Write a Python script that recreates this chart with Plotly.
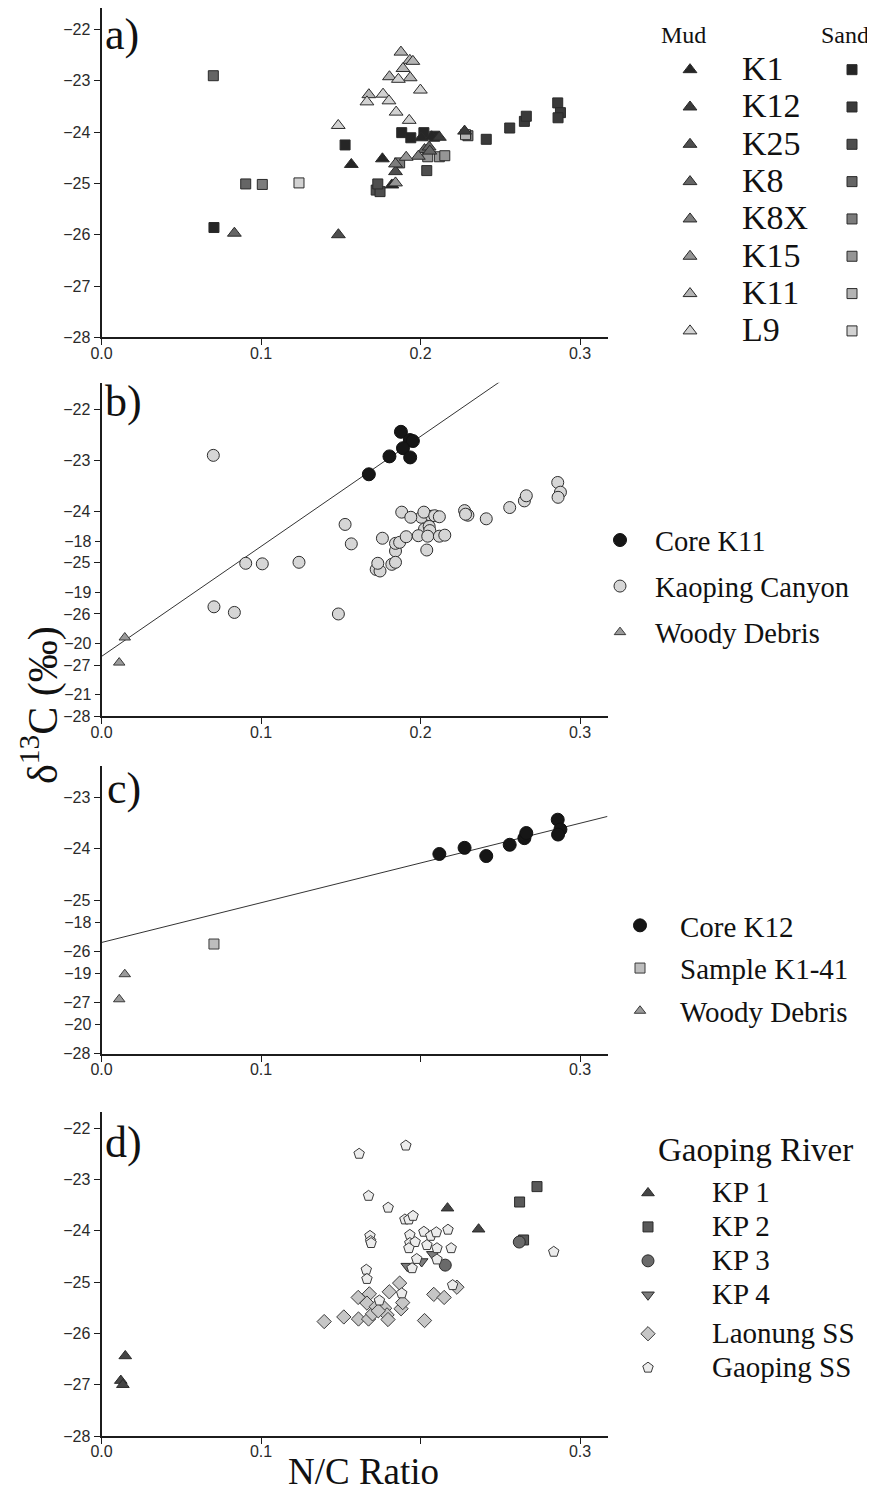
import plotly.graph_objects as go

# ======================= DATA =======================
CORES = ["K1", "K12", "K25", "K8", "K8X", "K15", "K11", "L9"]

# Panel a: N/C ratio (x) and d13C (y), mud = triangles, sand = squares
K1_mud_x = [0.1566, 0.1761, 0.1820, 0.2005, 0.2070]
K1_mud_y = [-24.63, -24.52, -25.03, -24.11, -24.09]
K1_sand_x = [0.0705, 0.1527, 0.1882, 0.1939, 0.2021, 0.2089]
K1_sand_y = [-25.86, -24.25, -24.01, -24.11, -24.01, -24.08]
K12_mud_x = [0.2118, 0.2276]
K12_mud_y = [-24.10, -23.98]
K12_sand_x = [0.2412, 0.2559, 0.2651, 0.2663, 0.2860, 0.2877, 0.2862]
K12_sand_y = [-24.14, -23.92, -23.79, -23.69, -23.43, -23.62, -23.72]
K25_mud_x = [0.1485, 0.1843]
K25_mud_y = [-26.00, -24.77]
K25_sand_x = [0.2039, 0.1722, 0.1746, 0.1732]
K25_sand_y = [-24.75, -25.13, -25.16, -25.01]
K8_mud_x = [0.0833, 0.2025, 0.2054, 0.2058]
K8_mud_y = [-25.97, -24.34, -24.29, -24.37]
K8_sand_x = [0.0701, 0.0904]
K8_sand_y = [-22.90, -25.01]
K8X_mud_x = [0.1986, 0.1843]
K8X_mud_y = [-24.47, -24.62]
K8X_sand_x = [0.1008, 0.2297, 0.1869]
K8X_sand_y = [-25.02, -24.07, -24.60]
K15_mud_x = [0.1910, 0.1843]
K15_mud_y = [-24.49, -24.99]
K15_sand_x = [0.2045, 0.2118, 0.2152]
K15_sand_y = [-24.48, -24.48, -24.46]
K11_mud_x = [0.1877, 0.1933, 0.1952, 0.1890, 0.1805, 0.1935, 0.1676]
K11_mud_y = [-22.44, -22.60, -22.62, -22.76, -22.92, -22.94, -23.27]
K11_sand_x = [0.2282]
K11_sand_y = [-24.05]
L9_mud_x = [0.1861, 0.1999, 0.1765, 0.1664, 0.1802, 0.1847, 0.1929, 0.1484]
L9_mud_y = [-22.97, -23.18, -23.26, -23.41, -23.39, -23.61, -23.77, -23.87]
L9_sand_x = [0.1238]
L9_sand_y = [-24.99]

# Panel b: woody debris on the secondary (inner) scale, regression line of core K11
B_WOODY_x = [0.0146, 0.0111]
B_WOODY_y = [-19.88, -20.37]
B_FIT_INTERCEPT = -26.83
B_FIT_SLOPE = 21.5

# Panel c: woody debris on the secondary scale, regression line of core K12
C_WOODY_x = [0.0146, 0.0111]
C_WOODY_y = [-19.01, -19.50]
C_FIT_INTERCEPT = -25.83
C_FIT_SLOPE = 7.77

# Panel d: Gaoping River
KP1_x = [0.0149, 0.0121, 0.0134, 0.2169, 0.2364]
KP1_y = [-26.44, -26.92, -27.00, -23.56, -23.97]
KP2_x = [0.2621, 0.2730, 0.2646]
KP2_y = [-23.44, -23.14, -24.18]
KP3_x = [0.2619, 0.2155]
KP3_y = [-24.22, -24.67]
KP4_x = [0.1917, 0.2007, 0.2077]
KP4_y = [-24.69, -24.60, -24.46]
LAONUNG_x = [0.1396, 0.1519, 0.1609, 0.1611, 0.1674, 0.1679, 0.1664, 0.1699, 0.1722, 0.1775,
             0.1790, 0.1796, 0.1804, 0.1869, 0.1878, 0.1888, 0.2025, 0.2083, 0.2148, 0.2228, 0.1735]
LAONUNG_y = [-25.77, -25.68, -25.30, -25.72, -25.72, -25.23, -25.41, -25.62, -25.48, -25.51,
             -25.64, -25.73, -25.19, -25.02, -25.52, -25.40, -25.75, -25.24, -25.30, -25.10, -25.56]
GAOPING_x = [0.1615, 0.1908, 0.1674, 0.1797, 0.1902, 0.1927, 0.1953, 0.1683, 0.1687, 0.1933,
             0.1933, 0.1966, 0.1927, 0.2021, 0.2064, 0.2099, 0.2040, 0.2103, 0.1976, 0.1947,
             0.1660, 0.1664, 0.1742, 0.1882, 0.2103, 0.2172, 0.2192, 0.2201, 0.2835, 0.1690]
GAOPING_y = [-22.50, -22.34, -23.32, -23.55, -23.78, -23.78, -23.71, -24.10, -24.20, -24.08,
             -24.24, -24.22, -24.34, -24.02, -24.10, -24.03, -24.28, -24.34, -24.55, -24.73,
             -24.76, -24.94, -25.36, -25.22, -24.56, -23.98, -24.34, -25.06, -24.41, -24.24]

# Tick labels
X_TICKS_AB = [0.0, 0.1, 0.2, 0.3]
X_TICKS_CD = [0.0, 0.1, 0.3]      # 0.2 keeps its tick mark but has no label in c) and d)
X_UNLABELLED_CD = [0.2]
Y_TICKS = [-22, -23, -24, -25, -26, -27, -28]
Y2_TICKS_B = [-18, -19, -20, -21]
Y2_TICKS_C = [-18, -19, -20]

# ======================= STYLE / LAYOUT =======================
# The page body has an 8 px margin, so the figure is 8 px smaller than the window
# and all positions below are given in window pixels and converted.
OFF = 8
FW, FH = 875 - OFF, 1495 - OFF
SERIF = "Liberation Serif"
SANS = "Liberation Sans"
AXC = "#1c1c1c"
X_LEFT, X_RIGHT = 101.5, 607.5
X_MAX = 0.3172
B_SEC_OFFSET = 6.58
C_SEC_OFFSET = 7.44
PANELS = [(8.0, 337.3, -21.58), (382.7, 716.3, -21.48), (766.0, 1053.5, -22.38), (1111.7, 1436.0, -21.68)]
GRAYS = ["#262626", "#3a3a3a", "#4e4e4e", "#656565", "#7c7c7c", "#959595", "#b4b4b4", "#d2d2d2"]


def fx(p):
    return min(1.0, max(0.0, (p - OFF) / FW))


def fy(p):
    return min(1.0, max(0.0, 1 - (p - OFF) / FH))


def mk(symbol, size, fill, line="#222222", lw=1.0):
    return dict(symbol=symbol, size=size, color=fill, line=dict(color=line, width=lw))


def big(txt, size):
    return '<span style="font-size:%gpx">%s</span>' % (size, txt)


fig = go.Figure()

MUD = [(K1_mud_x, K1_mud_y), (K12_mud_x, K12_mud_y), (K25_mud_x, K25_mud_y), (K8_mud_x, K8_mud_y),
       (K8X_mud_x, K8X_mud_y), (K15_mud_x, K15_mud_y), (K11_mud_x, K11_mud_y), (L9_mud_x, L9_mud_y)]
SAND = [(K1_sand_x, K1_sand_y), (K12_sand_x, K12_sand_y), (K25_sand_x, K25_sand_y), (K8_sand_x, K8_sand_y),
        (K8X_sand_x, K8X_sand_y), (K15_sand_x, K15_sand_y), (K11_sand_x, K11_sand_y), (L9_sand_x, L9_sand_y)]

# ---- panel a ----
for i, (name, (sx, sy)) in enumerate(zip(CORES, SAND)):
    fig.add_trace(go.Scatter(x=sx, y=sy, mode="markers", xaxis="x", yaxis="y", name=" ",
                             marker=mk("square", 10, GRAYS[i], "#2a2a2a", 1), legend="legend2"))
for i, (name, (mx, my)) in enumerate(zip(CORES, MUD)):
    fig.add_trace(go.Scatter(x=mx, y=my, mode="markers", xaxis="x", yaxis="y", name=big(name, 34),
                             marker=mk("triangle-up", 12, GRAYS[i], "#2a2a2a", 1), legend="legend"))

# ---- panel b ----
kaoping_x, kaoping_y = [], []
for name, (mx, my), (sx, sy) in zip(CORES, MUD, SAND):
    if name not in ("K11", "L9"):
        kaoping_x += mx
        kaoping_y += my
    kaoping_x += sx
    kaoping_y += sy

fig.add_trace(go.Scatter(x=[0, X_MAX], y=[B_FIT_INTERCEPT, B_FIT_INTERCEPT + B_FIT_SLOPE * X_MAX],
                         mode="lines", line=dict(color="#333333", width=1), xaxis="x2", yaxis="y2",
                         showlegend=False, hoverinfo="skip"))
fig.add_trace(go.Scatter(x=K11_mud_x, y=K11_mud_y, mode="markers", xaxis="x2", yaxis="y2", name="Core K11",
                         marker=mk("circle", 13, "#161616", "#111111", 1), legend="legend3", legendgroup="b1"))
fig.add_trace(go.Scatter(x=kaoping_x, y=kaoping_y, mode="markers", xaxis="x2", yaxis="y2", name="Kaoping Canyon",
                         marker=mk("circle", 12, "#d6d6d6", "#2e2e2e", 1), legend="legend3", legendgroup="b2"))
fig.add_trace(go.Scatter(x=B_WOODY_x, y=B_WOODY_y, mode="markers", xaxis="x2", yaxis="y5", name="Woody Debris",
                         marker=mk("triangle-up", 10, "#9a9a9a", "#3a3a3a", 1), legend="legend3", legendgroup="b3"))

# ---- panel c ----
fig.add_trace(go.Scatter(x=[0, X_MAX], y=[C_FIT_INTERCEPT, C_FIT_INTERCEPT + C_FIT_SLOPE * X_MAX],
                         mode="lines", line=dict(color="#333333", width=1), xaxis="x3", yaxis="y3",
                         showlegend=False, hoverinfo="skip"))
fig.add_trace(go.Scatter(x=K12_mud_x + K12_sand_x, y=K12_mud_y + K12_sand_y, mode="markers", xaxis="x3", yaxis="y3",
                         name="Core K12", marker=mk("circle", 13, "#161616", "#111111", 1),
                         legend="legend4", legendgroup="c1"))
fig.add_trace(go.Scatter(x=K1_sand_x[:1], y=K1_sand_y[:1], mode="markers", xaxis="x3", yaxis="y3",
                         name="Sample K1-41", marker=mk("square", 10, "#bdbdbd", "#3a3a3a", 1),
                         legend="legend4", legendgroup="c2"))
fig.add_trace(go.Scatter(x=C_WOODY_x, y=C_WOODY_y, mode="markers", xaxis="x3", yaxis="y6", name="Woody Debris",
                         marker=mk("triangle-up", 10, "#9a9a9a", "#3a3a3a", 1), legend="legend4", legendgroup="c3"))

# ---- panel d ----
d_series = [
    (KP1_x, KP1_y, "KP 1", mk("triangle-up", 11, "#454545", "#2a2a2a"), "kp"),
    (KP2_x, KP2_y, "KP 2", mk("square", 10, "#595959", "#2a2a2a"), "kp"),
    (KP3_x, KP3_y, "KP 3", mk("circle", 12, "#6a6a6a", "#2a2a2a"), "kp"),
    (KP4_x, KP4_y, "KP 4", mk("triangle-down", 11, "#7c7c7c", "#2a2a2a"), "kp"),
    (LAONUNG_x, LAONUNG_y, "Laonung SS", mk("diamond", 11, "#c6c6c6", "#3a3a3a"), "ss"),
    (GAOPING_x, GAOPING_y, "Gaoping SS", mk("pentagon", 11, "#ececec", "#3a3a3a"), "ss"),
]
for x, y, name, marker, grp in d_series:
    fig.add_trace(go.Scatter(x=x, y=y, mode="markers", xaxis="x4", yaxis="y4", name=big(name, 29),
                             marker=marker, legend="legend5", legendgroup=grp))

# ---- axes ----
axis_style = dict(showline=True, linecolor=AXC, linewidth=2, ticks="outside", ticklen=6, tickwidth=1.2,
                  tickcolor=AXC, showgrid=False, zeroline=False, automargin=False,
                  tickfont=dict(family=SANS, size=16, color="#2a2a2a"))
layout = dict(width=FW, height=FH, margin=dict(l=0, r=0, t=0, b=0, pad=0, autoexpand=False),
              paper_bgcolor="white", plot_bgcolor="rgba(0,0,0,0)", showlegend=True)
for i, (top, bot, ytop) in enumerate(PANELS):
    n = "" if i == 0 else str(i + 1)
    xa = dict(domain=[fx(X_LEFT), fx(X_RIGHT)], range=[0, X_MAX], anchor="y" + n,
              tickformat=".1f", ticklabelstandoff=-6, **axis_style)
    if i < 2:
        xa["tickvals"] = X_TICKS_AB
    else:
        xa["tickvals"] = X_TICKS_CD
        xa["minor"] = dict(tickvals=X_UNLABELLED_CD, ticks="outside", ticklen=6, tickwidth=1.2,
                           tickcolor=AXC, showgrid=False)
    layout["xaxis" + n] = xa
    layout["yaxis" + n] = dict(domain=[fy(bot), fy(top)], range=[-28, ytop], anchor="x" + n,
                               tickvals=[v for v in Y_TICKS if v <= ytop], **axis_style)
sec_style = dict(axis_style)
sec_style["showline"] = False
layout["yaxis5"] = dict(overlaying="y2", anchor="x2", side="left",
                        range=[-28 + B_SEC_OFFSET, PANELS[1][2] + B_SEC_OFFSET], tickvals=Y2_TICKS_B, **sec_style)
layout["yaxis6"] = dict(overlaying="y3", anchor="x3", side="left",
                        range=[-28 + C_SEC_OFFSET, PANELS[2][2] + C_SEC_OFFSET], tickvals=Y2_TICKS_C, **sec_style)

leg_common = dict(bgcolor="rgba(0,0,0,0)", xanchor="left", yanchor="top", itemsizing="trace",
                  itemclick=False, itemdoubleclick=False, xref="container", yref="container")
layout["legend"] = dict(x=fx(638), y=fy(46), font=dict(family=SERIF, size=26.4, color="#111"),
                        itemwidth=94, **leg_common)
layout["legend2"] = dict(x=fx(832), y=fy(46), font=dict(family=SERIF, size=26.4, color="#111"), **leg_common)
layout["legend3"] = dict(x=fx(585), y=fy(515), font=dict(family=SERIF, size=28.5, color="#111"),
                         traceorder="grouped", tracegroupgap=6, itemwidth=60, **leg_common)
layout["legend4"] = dict(x=fx(600), y=fy(900), font=dict(family=SERIF, size=29, color="#111"),
                         traceorder="grouped", tracegroupgap=2, itemwidth=70, **leg_common)
layout["legend5"] = dict(x=fx(584), y=fy(1171), font=dict(family=SERIF, size=23.8, color="#111"),
                         traceorder="grouped", tracegroupgap=5, itemwidth=118, **leg_common)

ann = [dict(text="a)", x=fx(103), y=1.0, xref="paper", yref="paper", xanchor="left", yanchor="top",
            showarrow=False, font=dict(family=SERIF, size=44, color="#111"))]
for label, xpx, ypx in [("b)", 103, 401), ("c)", 105, 788), ("d)", 103, 1142)]:
    ann.append(dict(text=label, x=fx(xpx), y=fy(ypx), xref="paper", yref="paper", xanchor="left",
                    yanchor="middle", showarrow=False, font=dict(family=SERIF, size=44, color="#111")))
ann.append(dict(text="Mud", x=fx(683), y=fy(35), xref="paper", yref="paper", showarrow=False,
                xanchor="center", yanchor="middle", font=dict(family=SERIF, size=24, color="#111")))
ann.append(dict(text="Sand", x=fx(845), y=fy(35), xref="paper", yref="paper", showarrow=False,
                xanchor="center", yanchor="middle", font=dict(family=SERIF, size=24, color="#111")))
ann.append(dict(text="Gaoping River", x=fx(755), y=fy(1150), xref="paper", yref="paper", showarrow=False,
                xanchor="center", yanchor="middle", font=dict(family=SERIF, size=33, color="#111")))
ann.append(dict(text="δ<sup>13</sup>C (‰)", x=fx(40), y=fy(705), xref="paper", yref="paper", showarrow=False,
                xanchor="center", yanchor="middle", textangle=-90,
                font=dict(family=SERIF, size=42, color="#111")))
ann.append(dict(text="N/C Ratio", x=fx(363), y=fy(1494), xref="paper", yref="paper", showarrow=False,
                xanchor="center", yanchor="bottom", font=dict(family=SERIF, size=37, color="#111")))
layout["annotations"] = ann

fig.update_layout(**layout)
fig.write_html("out.html")
